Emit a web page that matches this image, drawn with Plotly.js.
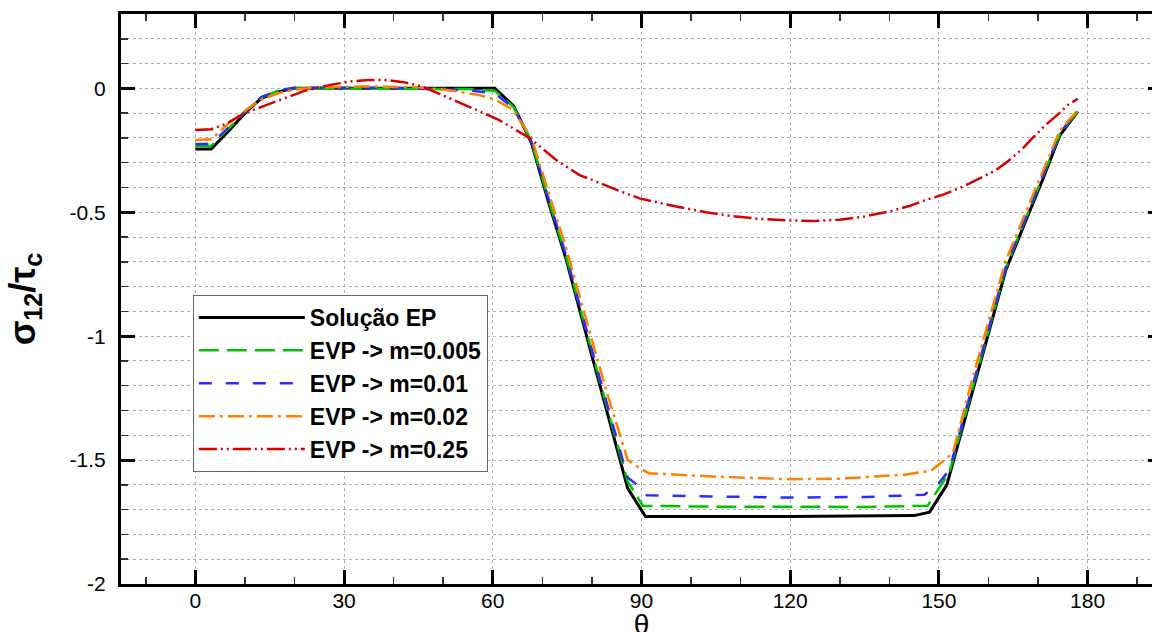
<!DOCTYPE html>
<html>
<head>
<meta charset="utf-8">
<script src="https://cdn.plot.ly/plotly-3.0.1.min.js"></script>
<style>
html,body{margin:0;padding:0;overflow:hidden;background:#fff;}
#chart{width:1180px;height:640px;}
</style>
</head>
<body>
<div id="chart"></div>
<script>
// Solução EP
const thetaEP = [0, 3.2, 6.8, 10.3, 13.3, 16.7, 20, 40, 60.4, 64.2, 67.8, 71.4, 74.8, 80.2, 83.5, 87.2, 90.8, 120, 145, 148.1, 151.6, 156.1, 160, 163.5, 167.2, 170.9, 174.4, 178];
const sigmaEP = [-0.245, -0.245, -0.17, -0.094, -0.04, -0.014, 0, 0, 0, -0.071, -0.22, -0.47, -0.69, -1.095, -1.337, -1.613, -1.728, -1.728, -1.724, -1.71, -1.60, -1.27, -0.99, -0.733, -0.55, -0.37, -0.19, -0.094];

// EVP m=0.005
const thetaM005 = [0, 3.2, 6.8, 10.3, 13.3, 16.7, 20, 40, 55, 60.4, 64.2, 67.8, 71.4, 74.8, 80.2, 83.5, 87.2, 90.3, 105, 120, 135, 147.7, 152.1, 156.1, 160, 163.5, 167.2, 170.9, 174.4, 178];
const sigmaM005 = [-0.233, -0.233, -0.16, -0.09, -0.037, -0.01, 0, 0, -0.003, -0.01, -0.075, -0.215, -0.46, -0.68, -1.08, -1.32, -1.586, -1.685, -1.688, -1.69, -1.689, -1.684, -1.55, -1.26, -0.98, -0.725, -0.54, -0.36, -0.185, -0.092];

// EVP m=0.01
const thetaM01 = [0, 3.2, 6.8, 10.3, 13.3, 16.7, 20, 40, 55, 60.4, 64.2, 67.8, 71.4, 74.8, 80.2, 83.5, 87.2, 88.8, 91.1, 105, 120, 135, 147.1, 150, 152.1, 156.1, 160, 163.5, 167.2, 170.9, 174.4, 178];
const sigmaM01 = [-0.225, -0.225, -0.155, -0.088, -0.035, -0.008, 0.002, 0.002, -0.008, -0.02, -0.08, -0.215, -0.455, -0.675, -1.07, -1.31, -1.57, -1.595, -1.642, -1.647, -1.651, -1.649, -1.64, -1.593, -1.54, -1.25, -0.97, -0.72, -0.535, -0.355, -0.18, -0.09];

// EVP m=0.02
const thetaM02 = [0, 3.2, 6.8, 10.3, 13.3, 16.7, 20, 25, 35, 45, 52, 57.3, 60.4, 64, 67.8, 71.4, 74.8, 80.2, 83.5, 87.2, 89.9, 91.5, 105, 120, 130, 143, 148.4, 152.8, 156.1, 160, 163.5, 167.2, 170.9, 174.4, 178];
const sigmaM02 = [-0.208, -0.205, -0.14, -0.085, -0.045, -0.02, -0.005, 0.004, 0.008, 0.004, -0.01, -0.027, -0.045, -0.085, -0.2, -0.43, -0.645, -1.03, -1.26, -1.499, -1.537, -1.553, -1.567, -1.577, -1.575, -1.559, -1.543, -1.472, -1.22, -0.94, -0.695, -0.515, -0.34, -0.17, -0.088];

// EVP m=0.25
const thetaM25 = [0, 3.2, 6, 10, 14, 17, 22, 27, 31, 35, 39, 42, 46, 49, 53, 57, 61, 64, 67.4, 72.8, 77.5, 80.9, 85, 89.6, 93, 97, 103, 108, 114, 120, 125, 130, 135, 140, 144, 147.4, 151, 154.8, 158.8, 161.5, 164, 166.5, 169, 171.5, 174.3, 176, 178];
const sigmaM25 = [-0.168, -0.165, -0.145, -0.1, -0.07, -0.047, -0.01, 0.013, 0.027, 0.034, 0.033, 0.025, 0.006, -0.02, -0.055, -0.088, -0.125, -0.16, -0.2, -0.289, -0.35, -0.376, -0.41, -0.444, -0.46, -0.477, -0.5, -0.515, -0.527, -0.533, -0.535, -0.53, -0.517, -0.497, -0.475, -0.45, -0.428, -0.397, -0.358, -0.33, -0.293, -0.25, -0.198, -0.148, -0.1, -0.067, -0.042];

const seriesNames = ["Solução EP", "EVP -> m=0.005", "EVP -> m=0.01", "EVP -> m=0.02", "EVP -> m=0.25"];

const xTickVals = [0, 30, 60, 90, 120, 150, 180];
const yTickVals = [-2, -1.5, -1, -0.5, 0];
const yTickText = ["-2", "-1.5", "-1", "-0.5", "0"];

const traces = [
  {x: thetaEP, y: sigmaEP, name: seriesNames[0], mode: "lines",
   line: {color: "#000000", width: 3, dash: "solid"}},
  {x: thetaM005, y: sigmaM005, name: seriesNames[1], mode: "lines",
   line: {color: "#00c400", width: 2.5, dash: "20px,8px"}},
  {x: thetaM01, y: sigmaM01, name: seriesNames[2], mode: "lines",
   line: {color: "#2b2bff", width: 2.5, dash: "13px,14px"}},
  {x: thetaM02, y: sigmaM02, name: seriesNames[3], mode: "lines",
   line: {color: "#ff8000", width: 2.5, dash: "16px,5px,3px,5px"}},
  {x: thetaM25, y: sigmaM25, name: seriesNames[4], mode: "lines",
   line: {color: "#d60000", width: 2.5, dash: "18px,4px,2px,4px,2px,4px"}}
];

const font = "Liberation Sans, Arial, Helvetica, sans-serif";

const layout = {
  width: 1180, height: 640,
  margin: {l: 121, r: 18, t: 14, b: 56},
  paper_bgcolor: "#ffffff", plot_bgcolor: "#ffffff",
  font: {family: font, color: "#000"},
  showlegend: true,
  legend: {
    x: 0.069, y: 0.507, xanchor: "left", yanchor: "top",
    bgcolor: "#ffffff", bordercolor: "#666", borderwidth: 1,
    font: {family: font, size: 23, color: "#000", weight: "bold"},
    itemwidth: 106, tracegroupgap: 0
  },
  xaxis: {
    range: [-15, 195], tickmode: "array", tickvals: xTickVals,
    ticks: "inside", ticklen: 14, tickwidth: 3, tickcolor: "#000",
    showline: true, linewidth: 3, linecolor: "#000", mirror: "allticks",
    showgrid: true, gridcolor: "#b0b0b0", gridwidth: 1, griddash: "dot",
    zeroline: false,
    ticklabelstandoff: -4,
    tickfont: {family: font, size: 21, color: "#000"},
    minor: {dtick: 10, tick0: 0, ticks: "inside", ticklen: 7, tickwidth: 1.5, tickcolor: "#333", showgrid: false},
    title: {text: "θ", font: {family: font, size: 28, color: "#000"}, standoff: 2}
  },
  yaxis: {
    range: [-2, 0.3], tickmode: "array", tickvals: yTickVals, ticktext: yTickText,
    ticks: "inside", ticklen: 14, tickwidth: 3, tickcolor: "#000",
    showline: true, linewidth: 3, linecolor: "#000", mirror: "allticks",
    showgrid: true, gridcolor: "#b0b0b0", gridwidth: 1, griddash: "dot",
    zeroline: false,
    ticklabelstandoff: 8,
    tickfont: {family: font, size: 21, color: "#000"},
    minor: {dtick: 0.1, tick0: 0, ticks: "inside", ticklen: 7, tickwidth: 1.5, tickcolor: "#333",
            showgrid: true, gridcolor: "#b0b0b0", gridwidth: 1, griddash: "dot"},
    title: {text: "σ<sub>12</sub>/τ<sub>c</sub>", font: {family: font, size: 36, color: "#000", weight: "bold"}, standoff: 24}
  }
};

Plotly.newPlot("chart", traces, layout, {displayModeBar: false, staticPlot: true});
</script>
</body>
</html>
